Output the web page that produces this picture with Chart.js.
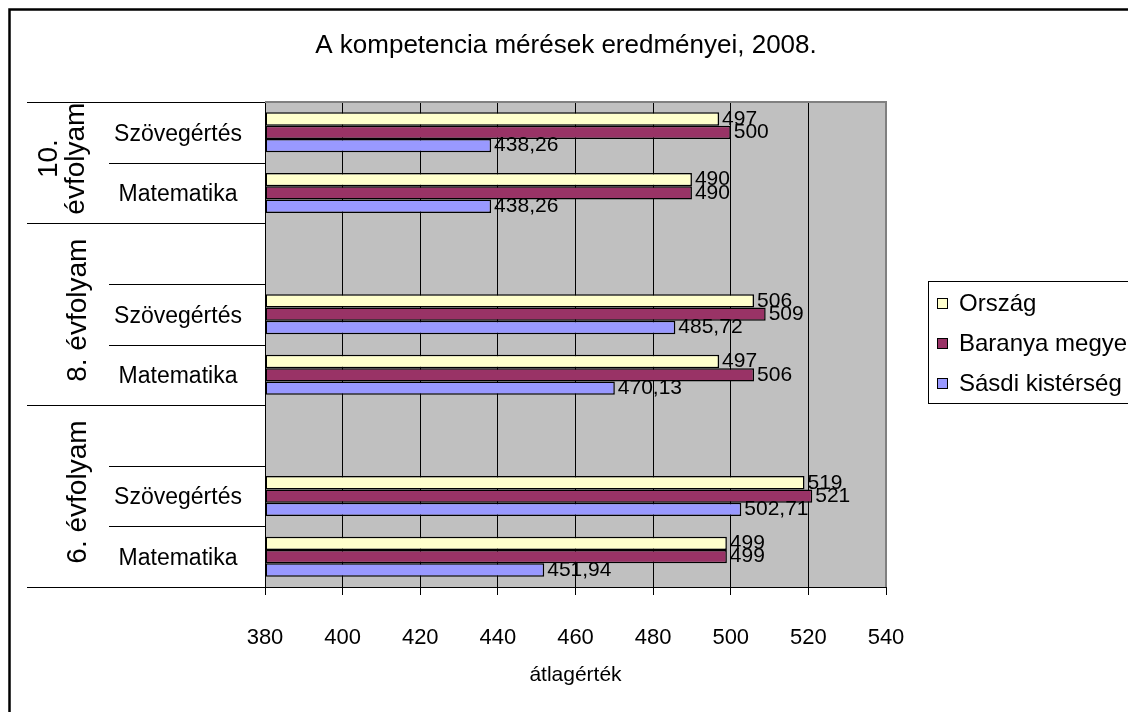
<!DOCTYPE html>
<html lang="hu">
<head>
<meta charset="utf-8">
<title>A kompetencia mérések eredményei, 2008.</title>
<script src="https://cdn.jsdelivr.net/npm/chart.js@4/dist/chart.umd.min.js"></script>
<style>
  html, body { margin: 0; padding: 0; background: #ffffff; }
  #wrap { width: 1128px; height: 712px; position: relative; }
</style>
</head>
<body>
<div id="wrap"><canvas id="kompetenciaChart"></canvas></div>
<script>
// Kompetencia mérések 2008 - vízszintes oszlopdiagram

const cim = 'A kompetencia mérések eredményei, 2008.';

// Kategóriák (felülről lefelé), az üres helyek csak térközök
const kategoriak = ['Szövegértés', 'Matematika', '', 'Szövegértés', 'Matematika', '', 'Szövegértés', 'Matematika'];

// Évfolyam csoportok: felirat sorai és a kategória indexek tartománya
const evfolyamNevek = [['10.', 'évfolyam'], ['8. évfolyam'], ['6. évfolyam']];
const evfolyamElso = [0, 2, 5];
const evfolyamUtolso = [1, 4, 7];

// Sorozatok
const sorozatNevek = ['Ország', 'Baranya megye', 'Sásdi kistérség'];
const orszag = [497, 490, null, 506, 497, null, 519, 499];
const baranya = [500, 490, null, 509, 506, null, 521, 499];
const sasdi = [438.26, 438.26, null, 485.72, 470.13, null, 502.71, 451.94];

// Tengely
const xMin = 380;
const xMax = 540;
const xLepes = 20;

const charts = {};
const betu = "'Liberation Sans', Arial, sans-serif";

window.addEventListener('DOMContentLoaded', function () {
  rajzolDiagram();
});

function szamFormat(v) {
  return String(v).replace('.', ',');
}

// Háttér, keret, cím, bal oldali csoportfeliratok, adatcímkék, jelmagyarázat
const kiegeszitok = {
  id: 'kiegeszitok',
  beforeDraw(chart) {
    const { ctx, chartArea: a } = chart;
    ctx.save();
    ctx.fillStyle = '#c0c0c0';
    ctx.fillRect(a.left, a.top, a.right - a.left, a.bottom - a.top);
    ctx.restore();
  },
  afterDraw(chart) {
    const { ctx, chartArea: a } = chart;
    const y = chart.scales.y;
    ctx.save();

    // plot keret (felső, jobb)
    ctx.strokeStyle = '#808080';
    ctx.lineWidth = 2;
    ctx.beginPath();
    ctx.moveTo(a.left, a.top);
    ctx.lineTo(a.right, a.top);
    ctx.lineTo(a.right, a.bottom);
    ctx.stroke();

    // külső keret
    ctx.strokeStyle = '#000';
    ctx.lineWidth = 2.5;
    ctx.beginPath();
    ctx.moveTo(9.5, chart.height + 5);
    ctx.lineTo(9.5, 9.5);
    ctx.lineTo(chart.width + 5, 9.5);
    ctx.stroke();

    // cím
    ctx.fillStyle = '#000';
    ctx.textAlign = 'center';
    ctx.textBaseline = 'middle';
    ctx.font = '26px ' + betu;
    ctx.fillText(cim, 566, 46);

    // kategória elválasztó vonalak
    ctx.strokeStyle = '#000';
    ctx.lineWidth = 1;
    const hatar = (i) => (y.getPixelForValue(i) + y.getPixelForValue(i + 1)) / 2;
    const vonal = (yy, x0) => {
      ctx.beginPath();
      ctx.moveTo(x0, Math.round(yy) + 0.5);
      ctx.lineTo(a.left, Math.round(yy) + 0.5);
      ctx.stroke();
    };
    vonal(a.top, 27);
    vonal(a.bottom, 27);
    for (let i = 0; i < kategoriak.length - 1; i++) {
      const csoportVeg = evfolyamUtolso.includes(i);
      vonal(hatar(i), csoportVeg ? 27 : 109);
    }

    // alkategória feliratok
    ctx.font = '23px ' + betu;
    kategoriak.forEach((k, i) => {
      if (k) ctx.fillText(k, 178, y.getPixelForValue(i) + 2);
    });

    // évfolyam feliratok (elforgatva)
    ctx.font = '28px ' + betu;
    evfolyamNevek.forEach((sorok, g) => {
      const y0 = g === 0 ? a.top : hatar(evfolyamElso[g] - 1);
      const y1 = g === evfolyamNevek.length - 1 ? a.bottom : hatar(evfolyamUtolso[g]);
      const cy = (y0 + y1) / 2;
      ctx.save();
      ctx.translate(sorok.length > 1 ? 63 : 78, cy - 4);
      ctx.rotate(-Math.PI / 2);
      sorok.forEach((s, j) => {
        ctx.fillText(s, 0, (j - (sorok.length - 1) / 2) * 27);
      });
      ctx.restore();
    });

    // adatcímkék
    ctx.font = '21px ' + betu;
    ctx.textAlign = 'left';
    chart.data.datasets.forEach((ds, di) => {
      const meta = chart.getDatasetMeta(di);
      meta.data.forEach((bar, i) => {
        const v = ds.data[i];
        if (v === null) return;
        ctx.fillText(szamFormat(v), bar.x + 3, bar.y);
      });
    });

    // jelmagyarázat
    const lx = 928, ly = 281, lh = 122;
    ctx.lineWidth = 1;
    ctx.strokeRect(lx + 0.5, ly + 0.5, chart.width, lh);
    ctx.font = '24px ' + betu;
    chart.data.datasets.forEach((ds, di) => {
      const cy = ly + 22 + di * 40;
      ctx.fillStyle = ds.backgroundColor;
      ctx.fillRect(lx + 9, cy - 5, 11, 11);
      ctx.strokeStyle = '#000';
      ctx.strokeRect(lx + 9.5, cy - 4.5, 10, 10);
      ctx.fillStyle = '#000';
      ctx.fillText(ds.label, lx + 31, cy + 1);
    });

    ctx.restore();
  },
};

function rajzolDiagram() {
  const ctx = document.getElementById('kompetenciaChart');
  if (!ctx) return;

  const szinek = ['#ffffcc', '#993366', '#9999ff'];
  const adatok = [orszag, baranya, sasdi];

  const config = {
    type: 'bar',
    data: {
      labels: kategoriak,
      datasets: adatok.map((d, i) => ({
        label: sorozatNevek[i],
        data: d,
        base: xMin,
        backgroundColor: szinek[i],
        borderColor: '#000',
        borderWidth: 1.5,
        borderSkipped: false,
        categoryPercentage: 0.66,
        barPercentage: 1,
      })),
    },
    options: {
      indexAxis: 'y',
      responsive: true,
      maintainAspectRatio: false,
      animation: false,
      layout: {
        padding: { left: 265, right: 242, top: 102, bottom: 10 },
      },
      scales: {
        x: {
          min: xMin,
          max: xMax,
          afterFit(scale) {
            scale.height = 115;
          },
          ticks: {
            stepSize: xLepes,
            padding: 30,
            color: '#000',
            font: { family: betu, size: 22 },
          },
          grid: {
            color: '#000',
            lineWidth: 1,
            tickLength: 8,
            tickColor: '#000',
          },
          border: { display: true, color: '#000', width: 1 },
          title: {
            display: true,
            text: 'átlagérték',
            color: '#000',
            padding: { top: 10, bottom: 14 },
            font: { family: betu, size: 21 },
          },
        },
        y: {
          display: false,
        },
      },
      plugins: {
        legend: { display: false },
        tooltip: { enabled: false },
        title: { display: false },
      },
    },
    plugins: [kiegeszitok],
  };

  charts.kompetencia = new Chart(ctx, config);
}
</script>
</body>
</html>
